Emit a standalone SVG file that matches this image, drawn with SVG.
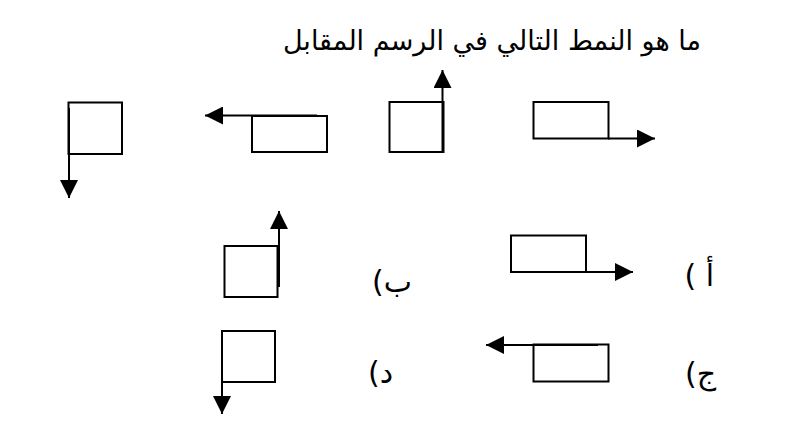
<svg xmlns="http://www.w3.org/2000/svg" width="788" height="436" viewBox="0 0 788 436">
<style>
.box{fill:none;stroke:#000;stroke-width:2}
.arr{fill:none;stroke:#000;stroke-width:2;marker-end:url(#ah)}
.title{font-family:"DejaVu Sans","Noto Sans",sans-serif;font-size:27px;fill:#000}
.lbl{font-family:"DejaVu Sans","Noto Sans",sans-serif;font-size:30px;fill:#000}
</style>
<defs>
<marker id="ah" markerUnits="userSpaceOnUse" markerWidth="18" markerHeight="18" refX="18" refY="9" orient="auto" viewBox="0 0 18 18">
<path d="M0,0 L18,9 L0,18 z" fill="#000"/>
</marker>
</defs>
<rect width="788" height="436" fill="#fff"/>
<g id="title"><text class="title" x="492" y="50" text-anchor="middle" direction="rtl">ما هو النمط التالي في الرسم المقابل</text></g>
<g id="connectors">
<line class="arr" x1="69" y1="108" x2="69" y2="198"/>
<line class="arr" x1="317" y1="115.5" x2="205" y2="115.5"/>
<line class="arr" x1="442.5" y1="151" x2="442.5" y2="70"/>
<line class="arr" x1="608" y1="138.5" x2="655" y2="138.5"/>
<line class="arr" x1="279" y1="287" x2="279" y2="211"/>
<line class="arr" x1="520" y1="272" x2="633" y2="272"/>
<line class="arr" x1="222" y1="331" x2="222" y2="414"/>
<line class="arr" x1="598" y1="345" x2="486" y2="345"/>
</g>
<g id="fig1"><rect class="box" x="68.5" y="102.5" width="53.5" height="51.5"/></g>
<g id="fig2"><rect class="box" x="252" y="116" width="75" height="36"/></g>
<g id="fig3"><rect class="box" x="389.5" y="102" width="54" height="50"/></g>
<g id="fig4"><rect class="box" x="533.5" y="102" width="75" height="36.5"/></g>
<g id="optA"><rect class="box" x="511" y="235.5" width="75" height="36.5"/><text class="lbl" x="714" y="286" text-anchor="start" direction="rtl">أ )</text></g>
<g id="optB"><rect class="box" x="224.5" y="246" width="53" height="51"/><text class="lbl" x="412" y="292" text-anchor="start" direction="rtl">ب)</text></g>
<g id="optC"><rect class="box" x="533.5" y="344.5" width="75" height="37"/><text class="lbl" x="716" y="384" text-anchor="start" direction="rtl">ج)</text></g>
<g id="optD"><rect class="box" x="222" y="331" width="53" height="51"/><text class="lbl" x="393" y="383" text-anchor="start" direction="rtl">د)</text></g>
</svg>
